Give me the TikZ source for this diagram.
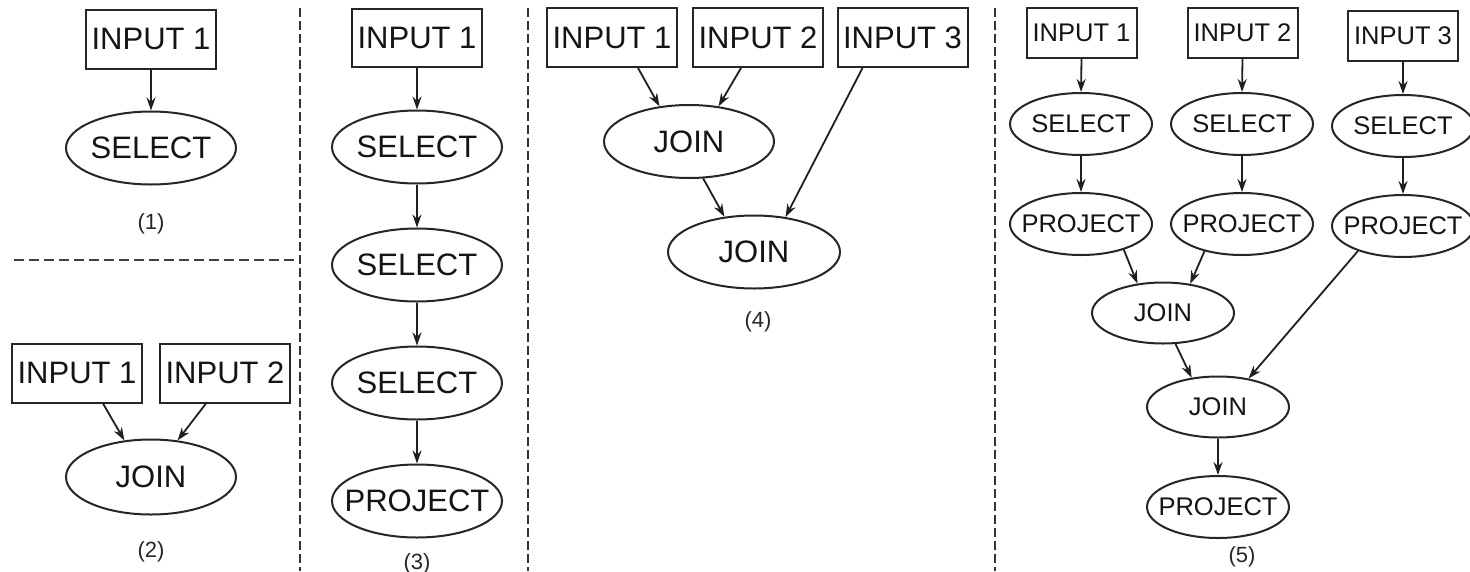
\documentclass[tikz,border=0pt]{standalone}
\usepackage{fontspec}
\setmainfont{Liberation Sans}
\usetikzlibrary{shapes.geometric,arrows.meta,calc}
\tikzset{
  ink/.style={draw=black!85, line width=2pt, text=black!92},
  bigbox/.style={ink, rectangle, minimum width=130pt, minimum height=59pt, inner sep=0pt, font=\fontsize{31}{31}\selectfont},
  bigell/.style={ink, ellipse, minimum width=170pt, minimum height=73pt, inner xsep=-15pt, inner ysep=0pt, font=\fontsize{31}{31}\selectfont},
  smallbox/.style={ink, rectangle, minimum width=110pt, minimum height=50pt, inner sep=0pt, font=\fontsize{25.5}{25.5}\selectfont},
  smallell/.style={ink, ellipse, minimum width=142pt, minimum height=62pt, inner xsep=-15pt, inner ysep=0pt, font=\fontsize{25.5}{25.5}\selectfont},
  lbl/.style={text=black!85, font=\fontsize{22}{22}\selectfont, inner sep=0pt},
  arr/.style={draw=black!88, line width=1.8pt, -{Stealth[length=13pt,width=9pt]}},
  divider/.style={draw=black!80, line width=1.6pt, dash pattern=on 9pt off 4pt},
  hdivider/.style={draw=black!75, line width=1.8pt, dash pattern=on 10pt off 5pt}
}
\begin{document}
\begin{tikzpicture}[x=1pt,y=-1pt]
\useasboundingbox[fill=white] (0,0) rectangle (1470,571);

% dividers
\coordinate (v1t) at (300,8);   \coordinate (v1b) at (300,571);
\coordinate (v2t) at (528,8);   \coordinate (v2b) at (528,571);
\coordinate (v3t) at (995,8);   \coordinate (v3b) at (995,571);
\coordinate (hl) at (14,260);   \coordinate (hr) at (297,260);
\draw[divider] (v1t) -- (v1b);
\draw[divider] (v2t) -- (v2b);
\draw[divider] (v3t) -- (v3b);
\draw[hdivider] (hl) -- (hr);

% panel 1
\node[bigbox] (p1i) at (151,39) {INPUT 1};
\node[bigell] (p1s) at (151,148) {SELECT};
\node[lbl] (p1l) at (151,224) {(1)};
\draw[arr] (p1i.south) -- (p1s.north);

% panel 2
\node[bigbox] (p2a) at (77,373) {INPUT 1};
\node[bigbox] (p2b) at (225,373) {INPUT 2};
\node[bigell, minimum height=75pt] (p2j) at (151,477) {JOIN};
\node[lbl] (p2l) at (151,552) {(2)};
\draw[arr] ($(p2a.south)+(26,0)$) -- (p2j.126);
\draw[arr] ($(p2b.south)+(-19,0)$) -- (p2j.54);

% panel 3
\node[bigbox, minimum height=58pt] (p3i) at (417,38) {INPUT 1};
\node[bigell] (p3s1) at (417,147) {SELECT};
\node[bigell] (p3s2) at (417,265) {SELECT};
\node[bigell] (p3s3) at (417,383) {SELECT};
\node[bigell] (p3p) at (417,501) {PROJECT};
\node[lbl] (p3l) at (417,564) {(3)};
\draw[arr] (p3i.south) -- (p3s1.north);
\draw[arr] (p3s1.south) -- (p3s2.north);
\draw[arr] (p3s2.south) -- (p3s3.north);
\draw[arr] (p3s3.south) -- (p3p.north);

% panel 4
\node[bigbox] (p4a) at (612,37.5) {INPUT 1};
\node[bigbox] (p4b) at (758,37.5) {INPUT 2};
\node[bigbox] (p4c) at (902.5,37.5) {INPUT 3};
\node[bigell] (p4j1) at (689,141.5) {JOIN};
\node[bigell, minimum width=172pt] (p4j2) at (754,252) {JOIN};
\node[lbl] (p4l) at (758,322) {(4)};
\draw[arr] ($(p4a.south)+(26,0)$) -- (p4j1.130);
\draw[arr] ($(p4b.south)+(-17,0)$) -- (p4j1.50);
\draw[arr] ($(p4c.south)+(-40,0)$) -- (p4j2.48);
\draw[arr] (p4j1.-69) -- (p4j2.130);

% panel 5
\node[smallbox] (p5a) at (1081.5,33) {INPUT 1};
\node[smallbox] (p5b) at (1242.5,33) {INPUT 2};
\node[smallbox] (p5c) at (1403,36) {INPUT 3};
\node[smallell] (p5s1) at (1081,124) {SELECT};
\node[smallell] (p5s2) at (1242,124) {SELECT};
\node[smallell] (p5s3) at (1403,126) {SELECT};
\node[smallell] (p5p1) at (1081,224) {PROJECT};
\node[smallell] (p5p2) at (1242,224) {PROJECT};
\node[smallell] (p5p3) at (1403,226) {PROJECT};
\node[smallell, minimum height=61pt] (p5j1) at (1163,313) {JOIN};
\node[smallell, minimum height=61pt] (p5j2) at (1218,407) {JOIN};
\node[smallell] (p5p4) at (1218,507) {PROJECT};
\node[lbl] (p5l) at (1242,557) {(5)};
\draw[arr] (p5a.south) -- (p5s1.north);
\draw[arr] (p5b.south) -- (p5s2.north);
\draw[arr] (p5c.south) -- (p5s3.north);
\draw[arr] (p5s1.south) -- (p5p1.north);
\draw[arr] (p5s2.south) -- (p5p2.north);
\draw[arr] (p5s3.south) -- (p5p3.north);
\draw[arr] (p5p1.-31) -- (p5j1.131);
\draw[arr] (p5p2.-144) -- (p5j1.47);
\draw[arr] (p5p3.-151) -- (p5j2.43);
\draw[arr] (p5j1.-68) -- (p5j2.132);
\draw[arr] (p5j2.south) -- (p5p4.north);
\end{tikzpicture}
\end{document}
